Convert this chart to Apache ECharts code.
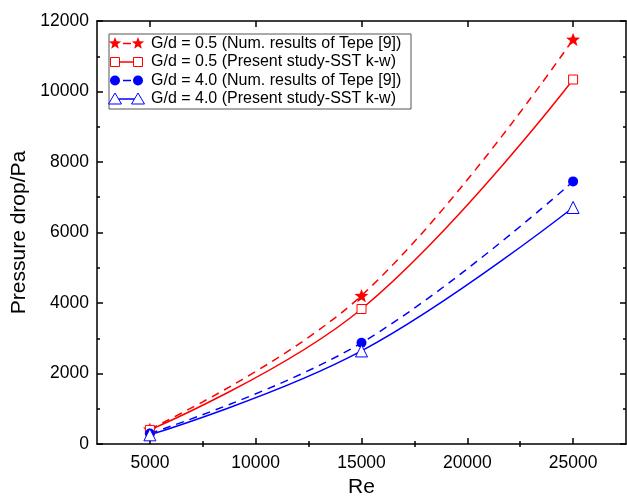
<!DOCTYPE html>
<html>
<head>
<meta charset="utf-8">
<script src="https://cdn.jsdelivr.net/npm/echarts@6/dist/echarts.min.js"></script>
<style>
  html, body { margin: 0; padding: 0; background: #fff; }
  #chart { width: 627px; height: 503px; }
</style>
</head>
<body>
<div id="chart"></div>
<script>
'use strict';

// data
var reValues = [5000, 15000, 25000];
var tepe05 = [420, 4210, 11480];      // G/d = 0.5, Tepe [9]
var present05 = [400, 3830, 10340];   // G/d = 0.5, SST k-w
var tepe40 = [300, 2870, 7450];       // G/d = 4.0, Tepe [9]
var present40 = [260, 2640, 6710];    // G/d = 4.0, SST k-w

var xMajor = [5000, 10000, 15000, 20000, 25000];
var xMinor = [7500, 12500, 17500, 22500];
var seriesNames = [
  'G/d = 0.5 (Num. results of Tepe [9])',
  'G/d = 0.5 (Present study-SST k-w)',
  'G/d = 4.0 (Num. results of Tepe [9])',
  'G/d = 4.0 (Present study-SST k-w)'
];

var RED = '#ff0000';
var BLUE = '#0000ff';
var FONT = '"Liberation Sans", Arial, sans-serif';

function pairs(xs, ys) {
  return xs.map(function (x, i) { return [x, ys[i]]; });
}

// 5 point star, as points around (cx, cy)
function starPoints(cx, cy, r) {
  var pts = [];
  for (var i = 0; i < 10; i++) {
    var rr = i % 2 === 0 ? r : r * 0.42;
    var a = -Math.PI / 2 + i * Math.PI / 5;
    pts.push([cx + rr * Math.cos(a), cy + rr * Math.sin(a)]);
  }
  return pts;
}
var starPath = 'path://' + starPoints(10, 10, 10).map(function (p, i) {
  return (i === 0 ? 'M' : 'L') + p[0].toFixed(2) + ',' + p[1].toFixed(2);
}).join(' ') + ' Z';

function plain(v) { return String(v); }

function xAx(pos, ticks, len, showLabel, extra) {
  var o = {
    type: 'value', position: pos, min: 2500, max: 27500,
    axisLine: { show: true, onZero: false, lineStyle: { color: '#000', width: 1.5 } },
    axisTick: { show: true, inside: true, length: len, customValues: ticks, lineStyle: { color: '#000', width: 1.5 } },
    axisLabel: { show: showLabel, customValues: ticks, formatter: plain, color: '#000', fontSize: 17.5, fontFamily: FONT, margin: 10 },
    splitLine: { show: false }
  };
  return Object.assign(o, extra || {});
}

function yAx(pos, showLabel, extra) {
  var o = {
    type: 'value', position: pos, min: 0, max: 12000, interval: 2000,
    axisLine: { show: true, onZero: false, lineStyle: { color: '#000', width: 1.5 } },
    axisTick: { show: true, inside: true, length: 6, lineStyle: { color: '#000', width: 1.5 } },
    minorTick: { show: true, splitNumber: 2, length: 3, lineStyle: { color: '#000', width: 1.5 } },
    axisLabel: { show: showLabel, formatter: plain, color: '#000', fontSize: 17.5, fontFamily: FONT, margin: 8 },
    splitLine: { show: false }
  };
  return Object.assign(o, extra || {});
}

// legend drawn by hand: symbol - line - symbol, then text
var legX = 109, legY = 34, rowH = 18.5;
var legendEls = [{
  type: 'rect',
  shape: { x: legX, y: legY, width: 302, height: 75 },
  style: { fill: '#fff', stroke: '#555', lineWidth: 1 }
}];
function legendSymbol(kind, cx, cy) {
  if (kind === 'star') {
    return { type: 'polygon', shape: { points: starPoints(cx, cy, 6.5) }, style: { fill: RED } };
  }
  if (kind === 'square') {
    return { type: 'rect', shape: { x: cx - 4.5, y: cy - 4.5, width: 9, height: 9 }, style: { fill: '#fff', stroke: RED, lineWidth: 1 } };
  }
  if (kind === 'circle') {
    return { type: 'circle', shape: { cx: cx, cy: cy, r: 5 }, style: { fill: BLUE } };
  }
  return { type: 'polygon', shape: { points: [[cx, cy - 6], [cx + 6.5, cy + 5], [cx - 6.5, cy + 5]] }, style: { fill: '#fff', stroke: BLUE, lineWidth: 1 } };
}
var legendKinds = [['star', RED, true], ['square', RED, false], ['circle', BLUE, true], ['triangle', BLUE, false]];
legendKinds.forEach(function (k, i) {
  var cy = legY + 9.5 + i * rowH;
  legendEls.push({
    type: 'line',
    shape: k[2] ? { x1: 123, y1: cy, x2: 131, y2: cy } : { x1: 114, y1: cy, x2: 138, y2: cy },
    style: { stroke: k[1], lineWidth: 1.5 }
  });
  legendEls.push(legendSymbol(k[0], 115, cy));
  legendEls.push(legendSymbol(k[0], 138, cy));
  legendEls.push({
    type: 'text', x: 151, y: cy,
    style: { text: seriesNames[i], fill: '#000', fontSize: 16, fontFamily: FONT, verticalAlign: 'middle' }
  });
});

function lineSeries(name, ys, color, dashed, symbol, size, hollow) {
  return {
    name: name, type: 'line', xAxisIndex: 0, yAxisIndex: 0,
    data: pairs(reValues, ys),
    smooth: 0.4,
    symbol: symbol, symbolSize: size, symbolKeepAspect: true,
    showAllSymbol: true,
    lineStyle: { color: color, width: 1.5, type: dashed ? [8, 6] : 'solid' },
    itemStyle: hollow ? { color: '#fff', borderColor: color, borderWidth: 1 } : { color: color, borderWidth: 0 },
    z: 3
  };
}

var option = {
  animation: false,
  backgroundColor: '#fff',
  grid: { left: 97, top: 21, right: 1, bottom: 55, containLabel: false },
  xAxis: [
    xAx('bottom', xMajor, 6, true, {
      name: 'Re', nameLocation: 'middle', nameGap: 33,
      nameTextStyle: { color: '#000', fontSize: 21, fontFamily: FONT }
    }),
    xAx('bottom', xMinor, 3, false, { axisLine: { show: false } }),
    xAx('top', xMajor, 6, false),
    xAx('top', xMinor, 3, false, { axisLine: { show: false } })
  ],
  yAxis: [
    yAx('left', true, {
      name: 'Pressure drop/Pa', nameLocation: 'middle', nameGap: 65,
      nameTextStyle: { color: '#000', fontSize: 21, fontFamily: FONT }
    }),
    yAx('right', false)
  ],
  series: [
    lineSeries(seriesNames[0], tepe05, RED, true, starPath, 14, false),
    lineSeries(seriesNames[1], present05, RED, false, 'rect', 9, true),
    lineSeries(seriesNames[2], tepe40, BLUE, true, 'circle', 10, false),
    lineSeries(seriesNames[3], present40, BLUE, false, 'triangle', 12, true)
  ],
  graphic: legendEls
};

var myChart = echarts.init(document.getElementById('chart'), null, { renderer: 'canvas' });
myChart.setOption(option);
</script>
</body>
</html>
